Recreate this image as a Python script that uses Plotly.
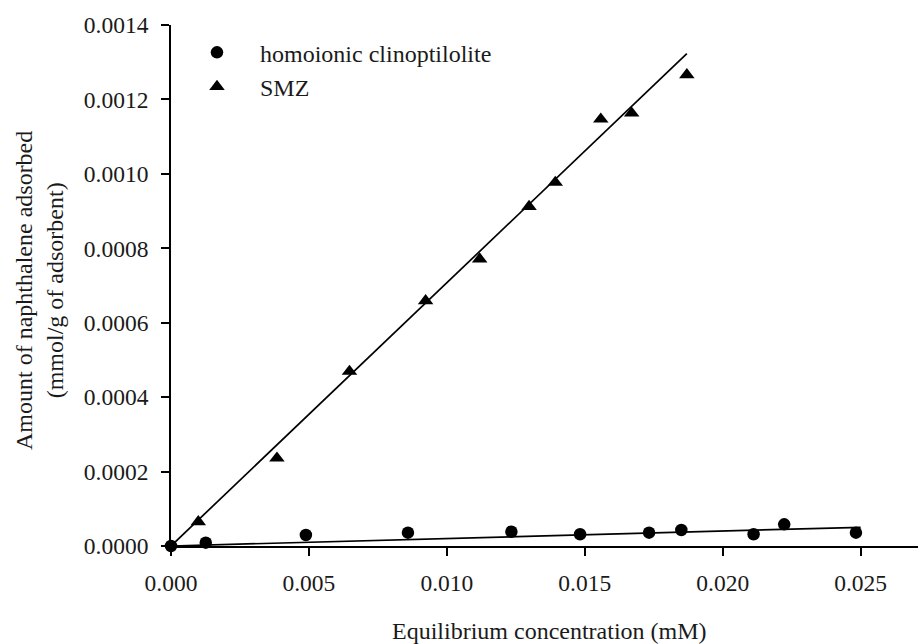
import plotly.graph_objects as go

# Homoionic clinoptilolite data
clino_x = [0.0, 0.00126, 0.00489, 0.00859, 0.01234, 0.01483, 0.01733, 0.0185, 0.02112, 0.02223, 0.02483]
clino_y = [0.0, 0.000009, 0.0000296, 0.0000358, 0.0000384, 0.0000315, 0.0000358, 0.000043, 0.0000315, 0.0000583, 0.0000358]

# SMZ data
smz_x = [0.00099, 0.00384, 0.00647, 0.00923, 0.01119, 0.01298, 0.01393, 0.01558, 0.01670, 0.0187]
smz_y = [0.000065, 0.000236, 0.000469, 0.000659, 0.000771, 0.000912, 0.000977, 0.001147, 0.001163, 0.001266]

# Linear fit lines (end points)
clino_fit_x = [0.0, 0.0250]
clino_fit_y = [0.0, 0.0000503]
smz_fit_x = [0.0, 0.0187]
smz_fit_y = [0.0, 0.001323]

x_ticks = [0.0, 0.005, 0.010, 0.015, 0.020, 0.025]
y_ticks = [0.0, 0.0002, 0.0004, 0.0006, 0.0008, 0.0010, 0.0012, 0.0014]

x_title = "Equilibrium concentration (mM)"
y_title = "Amount of naphthalene adsorbed<br>(mmol/g of adsorbent)"
series_names = ["homoionic clinoptilolite", "SMZ"]

FONT = "Liberation Serif"
TXT = "#1a1a1a"
fig = go.Figure()

fig.add_trace(go.Scatter(x=clino_fit_x, y=clino_fit_y, mode="lines",
                         line=dict(color="black", width=1.7), showlegend=False,
                         hoverinfo="skip"))
fig.add_trace(go.Scatter(x=smz_fit_x, y=smz_fit_y, mode="lines",
                         line=dict(color="black", width=1.7), showlegend=False,
                         hoverinfo="skip"))
fig.add_trace(go.Scatter(x=clino_x, y=clino_y, mode="markers",
                         name=series_names[0], legendgroup="a",
                         marker=dict(symbol="circle", size=12.5, color="black"),
                         cliponaxis=False))
fig.add_trace(go.Scatter(x=smz_x, y=smz_y, mode="markers",
                         name=series_names[1], legendgroup="b",
                         marker=dict(symbol="triangle-up", size=13.5, color="black"),
                         cliponaxis=False))

fig.update_layout(
    width=918, height=644,
    margin=dict(l=171, r=0, t=25, b=98),
    paper_bgcolor="white", plot_bgcolor="white",
    font=dict(family=FONT, size=23.5, color=TXT),
    legend=dict(x=0.004, y=0.99, xanchor="left", yanchor="top",
                bgcolor="rgba(0,0,0,0)", tracegroupgap=0,
                font=dict(family=FONT, size=24, color=TXT),
                itemwidth=76),
    xaxis=dict(range=[0, 0.02708], tickvals=x_ticks, tickformat=".3f",
               ticks="outside", ticklen=8, tickwidth=1.6, tickcolor="black",
               showline=True, linecolor="black", linewidth=1.8,
               showgrid=False, zeroline=False, ticklabelstandoff=7,
               tickfont=dict(family=FONT, size=23.5, color=TXT)),
    yaxis=dict(range=[0, 0.0014], tickvals=y_ticks, tickformat=".4f",
               ticks="outside", ticklen=8, tickwidth=1.6, tickcolor="black",
               showline=True, linecolor="black", linewidth=1.8,
               showgrid=False, zeroline=False, ticklabelstandoff=8,
               tickfont=dict(family=FONT, size=23.5, color=TXT)),
    annotations=[
        dict(text=x_title, xref="paper", yref="paper", x=0.507, y=-0.163,
             xanchor="center", yanchor="middle", showarrow=False,
             font=dict(family=FONT, size=24, color=TXT)),
        dict(text=y_title, xref="paper", yref="paper", x=-0.177, y=0.491,
             xanchor="center", yanchor="middle", showarrow=False, textangle=-90,
             font=dict(family=FONT, size=24, color=TXT)),
    ],
)

fig.write_html("out.html")
